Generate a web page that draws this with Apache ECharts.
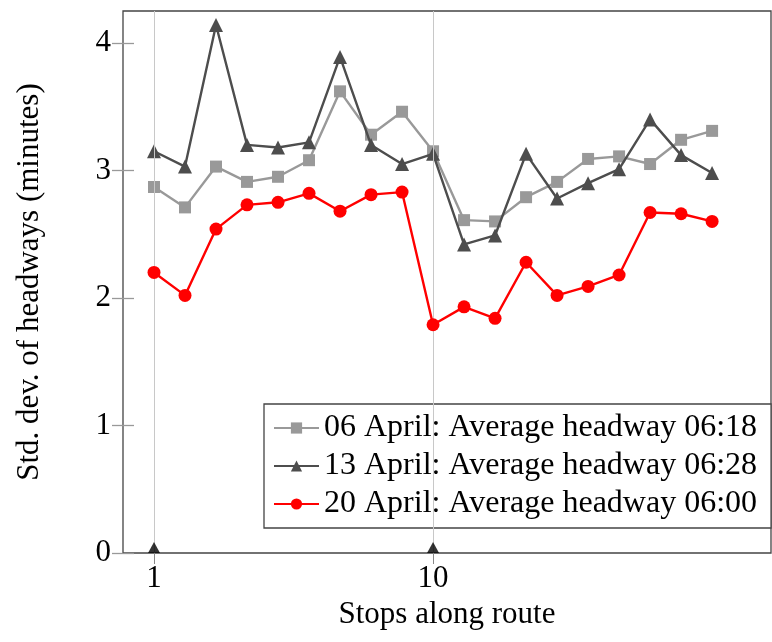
<!DOCTYPE html>
<html>
<head>
<meta charset="utf-8">
<script src="https://cdn.jsdelivr.net/npm/echarts@6/dist/echarts.min.js"></script>
<style>
html,body{margin:0;padding:0;background:#fff;}
#chart{width:772px;height:642px;}
</style>
</head>
<body>
<div id="chart"></div>
<script>
const stops = [1,2,3,4,5,6,7,8,9,10,11,12,13,14,15,16,17,18,19];
const apr06 = [2.87,2.71,3.03,2.91,2.95,3.08,3.62,3.28,3.46,3.15,2.61,2.60,2.79,2.91,3.09,3.11,3.05,3.24,3.31];
const apr13 = [3.15,3.03,4.14,3.20,3.18,3.22,3.89,3.20,3.05,3.13,2.42,2.49,3.13,2.78,2.90,3.01,3.40,3.12,2.98];
const apr20 = [2.20,2.02,2.54,2.73,2.75,2.82,2.68,2.81,2.83,1.79,1.93,1.84,2.28,2.02,2.09,2.18,2.67,2.66,2.60];
const seriesNames = [
  "06 April: Average headway 06:18",
  "13 April: Average headway 06:28",
  "20 April: Average headway 06:00"
];
const xTicks = [1, 10];
const yTicks = [0, 1, 2, 3, 4];

const FONT = "'Liberation Serif','Times New Roman',serif";
const pair = (ys) => stops.map((s, i) => [s, ys[i]]);

const chart = echarts.init(document.getElementById('chart'), null, {renderer: 'canvas'});
const xBase = {
  type: 'value', min: 0, max: 20.9,
  splitLine: {show: false},
  axisLine: {show: false},
  axisTick: {show: true, inside: true, length: 11, customValues: xTicks, lineStyle: {color: '#888', width: 1}},
};
const yBase = {
  type: 'value', min: 0, max: 4.25,
  splitLine: {show: false},
  axisLine: {show: false},
  axisTick: {show: true, inside: true, length: 11, customValues: yTicks, lineStyle: {color: '#999', width: 1.3}},
};
chart.setOption({
  animation: false,
  backgroundColor: '#fff',
  textStyle: {fontFamily: FONT},
  grid: {left: 123, right: 1, top: 11, bottom: 89, show: true, borderColor: '#444', borderWidth: 1.3, backgroundColor: 'transparent'},
  xAxis: [
    Object.assign({}, xBase, {
      position: 'bottom',
      name: 'Stops along route', nameLocation: 'middle', nameGap: 42,
      nameTextStyle: {fontFamily: FONT, fontSize: 31, color: '#000'},
      axisLabel: {show: true, customValues: xTicks, margin: 10, fontFamily: FONT, fontSize: 31, color: '#000'}
    }),
    Object.assign({}, xBase, {position: 'top', axisLabel: {show: false}})
  ],
  yAxis: [
    Object.assign({}, yBase, {
      position: 'left',
      name: 'Std. dev. of headways (minutes)', nameLocation: 'middle', nameGap: 78,
      nameTextStyle: {fontFamily: FONT, fontSize: 31, color: '#000'},
      axisLabel: {show: true, customValues: yTicks, margin: 12, fontFamily: FONT, fontSize: 31, color: '#000'}
    }),
    Object.assign({}, yBase, {position: 'right', axisLabel: {show: false}})
  ],
  legend: {
    orient: 'vertical', left: 264, top: 404,
    padding: [8, 14, 8, 9],
    itemGap: 6, itemWidth: 45, itemHeight: 14, itemTextGap: 10,
    backgroundColor: '#fff', borderColor: '#444', borderWidth: 1.3, borderRadius: 0,
    textStyle: {fontFamily: FONT, fontSize: 32, lineHeight: 31, color: '#000'},
    data: seriesNames
  },
  series: [
    {
      name: 'grid', type: 'line', data: [], silent: true,
      markLine: {
        silent: true, symbol: 'none', label: {show: false},
        lineStyle: {color: '#c8c8c8', width: 1, type: 'solid'},
        data: xTicks.map(v => ({xAxis: v}))
      }
    },
    {
      name: seriesNames[0], type: 'line', data: pair(apr06),
      symbol: 'rect', symbolSize: 12,
      lineStyle: {color: '#999999', width: 2.4},
      itemStyle: {color: '#999999'}, z: 3
    },
    {
      name: seriesNames[1], type: 'line', data: pair(apr13),
      symbol: 'triangle', symbolSize: 14,
      lineStyle: {color: '#4d4d4d', width: 2.4},
      itemStyle: {color: '#4d4d4d'}, z: 4
    },
    {
      name: seriesNames[2], type: 'line', data: pair(apr20),
      symbol: 'circle', symbolSize: 13,
      lineStyle: {color: '#ff0000', width: 2.4},
      itemStyle: {color: '#ff0000'}, z: 5
    },
    {
      name: 'tickmarks', type: 'scatter', data: xTicks.map(v => [v, 0]),
      symbol: 'triangle', symbolSize: [12, 11], symbolOffset: [0, -5.5],
      itemStyle: {color: '#000'}, silent: true, z: 6
    }
  ]
});
</script>
</body>
</html>
